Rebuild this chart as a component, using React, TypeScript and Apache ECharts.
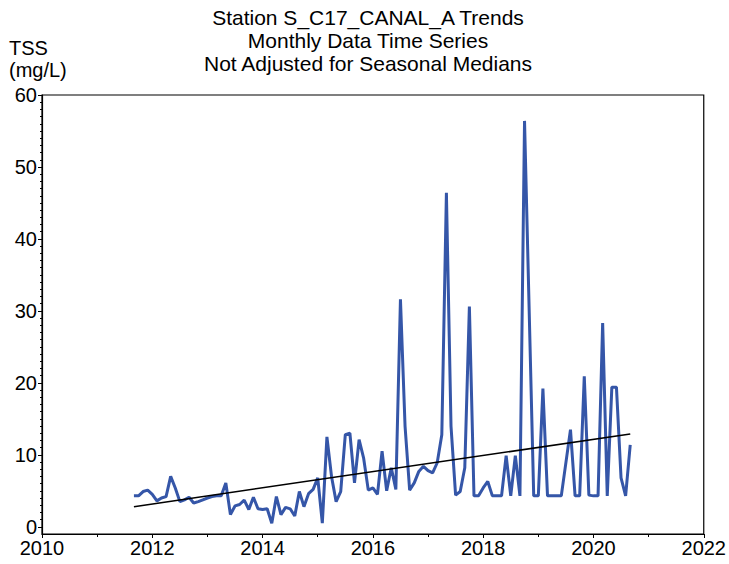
import React, { useEffect, useRef } from "react";
import * as echarts from "echarts";

// Monthly series starting September 2011 (null = no sample that month)
const startYear = 2011;
const startMonth = 9;
const tssValues: (number | null)[] = [
  4.3, 4.3, 4.9, 5.1, 4.5, 3.6, 4.0, 4.2, 7.0, 5.4,
  3.5, 3.75, 4.1, 3.3, 3.5, 3.75, 4.0, 4.2, 4.3, 4.3,
  6.1, 1.7, 2.9, 3.1, 3.7, 2.4, 4.1, 2.5, 2.4, 2.5,
  0.5, 4.2, 1.7, 2.7, 2.5, 1.5, 4.9, 2.8, 4.6, 5.2,
  6.8, 0.5, 12.5, 7.0, 3.5, 4.9, 12.8, 13.0, 6.1, 12.1,
  9.5, 5.1, 5.4, 4.5, 10.5, 5.0, 8.2, 5.2, 31.6, 14.0,
  5.1, 6.1, 7.7, 8.4, 7.8, 7.5, 8.9, 12.8, 46.4, 14.0,
  4.4, 4.9, 8.2, 30.6, 4.3, 4.3, 5.4, 6.3, 4.3, 4.3,
  4.3, 9.9, 4.3, 9.9, 4.3, 56.4, null, 4.3, 4.3, 19.2,
  4.3, 4.3, 4.3, 4.3, null, 13.5, 4.3, 4.3, 20.9, 4.4,
  4.3, 4.3, 28.3, 4.3, 19.4, 19.4, 6.8, 4.3, 11.4,
];

// Trend line end points [decimal year, value]
const trendStart = [2011.667, 2.8];
const trendEnd = [2020.667, 12.9];

const xTicks = [2010, 2012, 2014, 2016, 2018, 2020, 2022];
const yTicks = [0, 10, 20, 30, 40, 50, 60];
const yMinorTicks = Array.from({ length: 61 }, (_, i) => i);

const titleLines = [
  "Station S_C17_CANAL_A Trends",
  "Monthly Data Time Series",
  "Not Adjusted for Seasonal Medians",
];
const yName = ["TSS", "(mg/L)"];

const FONT = "'Liberation Sans', Arial, sans-serif";

export default function App() {
  const ref = useRef<HTMLDivElement>(null);

  useEffect(() => {
    if (!ref.current) return;
    const chart = echarts.init(ref.current, null, { renderer: "svg" });

    const seriesData = tssValues.map((v, i) => [
      startYear + (startMonth - 1 + i) / 12,
      v,
    ]);

    chart.setOption({
      animation: false,
      backgroundColor: "#fff",
      grid: {
        left: 42,
        right: 24,
        top: 95,
        bottom: 30,
        show: true,
        borderColor: "#000",
        borderWidth: 1.2,
        containLabel: false,
      },
      graphic: [
        ...titleLines.map((t, i) => ({
          type: "text",
          x: 368,
          y: 17 + i * 23,
          style: {
            text: t,
            fontSize: 21,
            fontFamily: FONT,
            fill: "#000",
            textAlign: "center",
            textVerticalAlign: "middle",
          },
        })),
        ...yName.map((t, i) => ({
          type: "text",
          x: 9,
          y: 48 + i * 22,
          style: {
            text: t,
            fontSize: 20,
            fontFamily: FONT,
            fill: "#000",
            textAlign: "left",
            textVerticalAlign: "middle",
          },
        })),
      ],
      xAxis: {
        type: "value",
        min: xTicks[0],
        max: xTicks[xTicks.length - 1],
        interval: 2,
        axisLine: { show: true, onZero: false, lineStyle: { color: "#000", width: 1.2 } },
        axisTick: { show: true, inside: false, length: 4, lineStyle: { color: "#000" } },
        minorTick: { show: true, splitNumber: 2, length: 3, lineStyle: { color: "#000" } },
        splitLine: { show: false },
        axisLabel: {
          color: "#000",
          fontSize: 20,
          fontFamily: FONT,
          margin: 4,
          formatter: (v: number) => String(v),
        },
      },
      yAxis: [
        {
          type: "value",
          min: -1,
          max: 60,
          axisLine: { show: true, onZero: false, lineStyle: { color: "#000", width: 1.2 } },
          axisTick: {
            show: true,
            length: 4,
            customValues: yTicks,
            lineStyle: { color: "#000" },
          },
          axisLabel: {
            color: "#000",
            fontSize: 20,
            fontFamily: FONT,
            margin: 5,
            customValues: yTicks,
          },
          splitLine: { show: false },
        },
        {
          type: "value",
          min: -1,
          max: 60,
          position: "left",
          axisLine: { show: false },
          axisTick: {
            show: true,
            length: 2,
            customValues: yMinorTicks,
            lineStyle: { color: "#000" },
          },
          axisLabel: { show: false },
          splitLine: { show: false },
        },
      ],
      series: [
        {
          type: "line",
          data: seriesData,
          connectNulls: true,
          showSymbol: false,
          symbol: "none",
          lineStyle: { color: "#3556a8", width: 3 },
          z: 2,
        },
        {
          type: "line",
          data: [trendStart, trendEnd],
          showSymbol: false,
          symbol: "none",
          lineStyle: { color: "#000", width: 1.5 },
          z: 3,
        },
      ],
    });

    return () => chart.dispose();
  }, []);

  return (
    <div
      ref={ref}
      style={{ position: "fixed", left: 0, top: 0, width: 729, height: 564 }}
    />
  );
}
